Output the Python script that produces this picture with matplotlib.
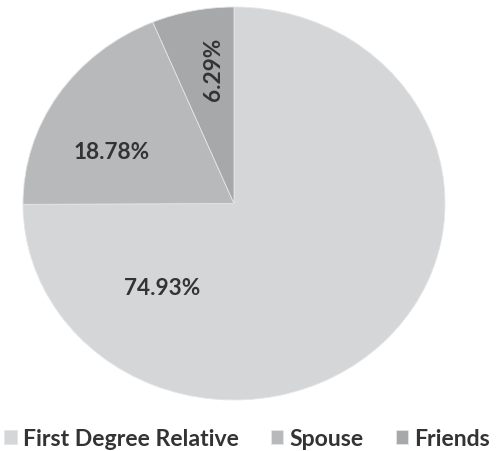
import matplotlib
matplotlib.use("Agg")
import matplotlib.pyplot as plt

categories = ["First Degree Relative", "Spouse", "Friends"]
shares = [74.93, 18.78, 6.29]
colors = ["#d5d6d8", "#b8b9bb", "#a7a8aa"]
# label centres in pie data units (manual placement like the original)
label_pos = [(-0.34, -0.425), (-0.578, 0.267), (-0.095, 0.69)]
label_rot = [0, 0, 90]

plt.rcParams["font.family"] = ["Lato", "DejaVu Sans"]

fig = plt.figure(figsize=(4.97, 4.52), dpi=100)
ax = fig.add_axes([23 / 497, 51 / 452, 422 / 497, 393 / 452])

wedges, texts, autotexts = ax.pie(
    shares, colors=colors, startangle=90, counterclock=False,
    autopct="%.2f%%", radius=1.0,
    wedgeprops=dict(edgecolor="#e4e5e6", linewidth=0.6),
    textprops=dict(fontsize=16.3, fontweight="bold", color="#333333"),
)
for t, (x, y), r in zip(autotexts, label_pos, label_rot):
    t.set_position((x, y))
    t.set_rotation(r)
    t.set_ha("center")
    t.set_va("center")

ax.set_aspect("auto")
ax.set_xlim(-1, 1)
ax.set_ylim(-1, 1)
ax.axis("off")

fig.legend(wedges, categories, loc="center", bbox_to_anchor=(247 / 497, 1 - 440 / 452),
           ncol=3, frameon=False, handlelength=0.55, handleheight=0.55,
           handletextpad=0.25, columnspacing=1.4, borderaxespad=0, borderpad=0,
           prop=dict(size=16.6, weight="bold"), labelcolor="#333333")

fig.savefig("out.png", dpi=100)
